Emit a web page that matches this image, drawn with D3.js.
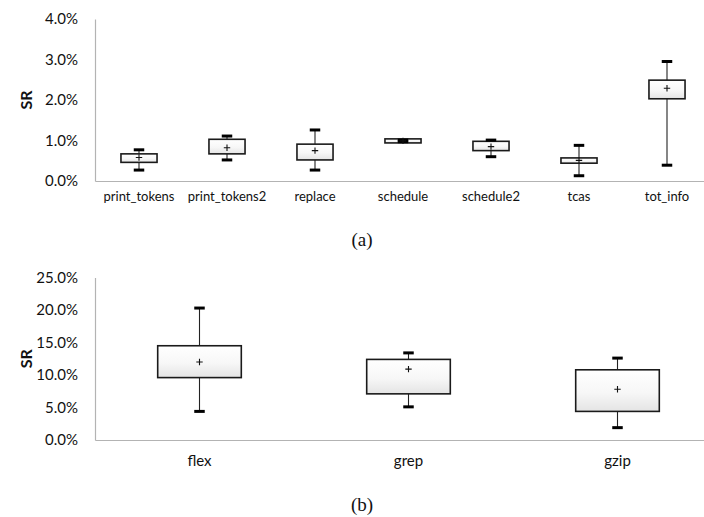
<!DOCTYPE html>
<html>
<head>
<meta charset="utf-8">
<script src="https://cdn.jsdelivr.net/npm/d3@7"></script>
<style>
  html, body { margin: 0; padding: 0; background: #fff; }
  svg { display: block; }
</style>
</head>
<body>
<svg id="chart" width="704" height="517"></svg>
<script>
// Panel (a): SR per Siemens program (percent)
const smallPrograms = ["print_tokens", "print_tokens2", "replace", "schedule", "schedule2", "tcas", "tot_info"];
const smallWhiskerLow  = [0.27, 0.52, 0.27, 0.97, 0.60, 0.13, 0.39];
const smallQ1          = [0.46, 0.67, 0.52, 0.94, 0.75, 0.44, 2.03];
const smallQ3          = [0.67, 1.03, 0.91, 1.04, 0.98, 0.57, 2.49];
const smallWhiskerHigh = [0.77, 1.11, 1.26, 1.01, 1.01, 0.88, 2.95];
const smallMean        = [0.58, 0.82, 0.75, 0.99, 0.85, 0.51, 2.29];
const smallTicks = [0, 1, 2, 3, 4];

// Panel (b): SR per larger program (percent)
const largePrograms = ["flex", "grep", "gzip"];
const largeWhiskerLow  = [4.4, 5.1, 1.9];
const largeQ1          = [9.6, 7.1, 4.4];
const largeQ3          = [14.5, 12.4, 10.8];
const largeWhiskerHigh = [20.3, 13.4, 12.6];
const largeMean        = [12.0, 10.9, 7.8];
const largeTicks = [0, 5, 10, 15, 20, 25];

const svg = d3.select("#chart");

const defs = svg.append("defs");
const grad = defs.append("linearGradient")
  .attr("id", "boxFill").attr("x1", 0).attr("y1", 0).attr("x2", 0).attr("y2", 1);
grad.append("stop").attr("offset", "0%").attr("stop-color", "#ffffff");
grad.append("stop").attr("offset", "55%").attr("stop-color", "#f7f7f7");
grad.append("stop").attr("offset", "100%").attr("stop-color", "#e4e4e4");

const labelFont = "Lato, 'Open Sans', sans-serif";

function drawPanel(opt) {
  const g = svg.append("g");
  const x = d3.scaleBand().domain(opt.cats).range([opt.x0, opt.x1]).paddingInner(0).paddingOuter(0);
  const y = d3.scaleLinear().domain([0, opt.max]).range([opt.yBottom, opt.yTop]);

  // y axis
  const yAxis = d3.axisLeft(y).tickValues(opt.ticks).tickSize(0).tickPadding(17)
    .tickFormat(d => d.toFixed(1) + "%");
  const ya = g.append("g").attr("transform", `translate(${opt.x0},0)`).call(yAxis);
  ya.select(".domain").attr("stroke", "#b3b3b3").attr("stroke-width", 1.2);
  ya.selectAll("text").attr("font-family", labelFont).attr("font-size", opt.tickSize)
    .attr("fill", "#111");

  // x axis
  const xAxis = d3.axisBottom(x).tickSize(0).tickPadding(opt.xPad);
  const xa = g.append("g").attr("transform", `translate(0,${opt.yBottom})`).call(xAxis);
  xa.select(".domain").attr("stroke", "#b3b3b3").attr("stroke-width", 1.2);
  xa.selectAll("text").attr("font-family", labelFont).attr("font-size", opt.catSize)
    .attr("fill", "#111");

  // axis title
  g.append("text")
    .attr("transform", `translate(${opt.titleX},${(opt.yTop + opt.yBottom) / 2}) rotate(-90)`)
    .attr("text-anchor", "middle").attr("dominant-baseline", "central")
    .attr("font-family", labelFont).attr("font-weight", "bold").attr("font-size", 16)
    .attr("fill", "#111").text("SR");

  const data = opt.cats.map((c, i) => ({
    cat: c, lo: opt.lo[i], q1: opt.q1[i], q3: opt.q3[i], hi: opt.hi[i], mean: opt.mean[i]
  }));
  const bw = x.bandwidth() * opt.boxFrac;
  const capW = 10.5;

  const box = g.selectAll(".box").data(data).join("g").attr("class", "box")
    .attr("transform", d => `translate(${x(d.cat) + x.bandwidth() / 2},0)`);

  // whisker stems
  box.append("line").attr("x1", 0).attr("x2", 0)
    .attr("y1", d => y(d.hi)).attr("y2", d => y(d.q3))
    .attr("stroke", "#222").attr("stroke-width", 1.1);
  box.append("line").attr("x1", 0).attr("x2", 0)
    .attr("y1", d => y(d.q1)).attr("y2", d => y(d.lo))
    .attr("stroke", "#222").attr("stroke-width", 1.1);

  // box
  box.append("rect")
    .attr("x", -bw / 2).attr("width", bw)
    .attr("y", d => y(d.q3)).attr("height", d => y(d.q1) - y(d.q3))
    .attr("fill", "url(#boxFill)").attr("stroke", "#1a1a1a").attr("stroke-width", 1.6);

  // whisker caps
  box.append("line").attr("x1", -capW / 2).attr("x2", capW / 2)
    .attr("y1", d => y(d.hi)).attr("y2", d => y(d.hi))
    .attr("stroke", "#000").attr("stroke-width", 3);
  box.append("line").attr("x1", -capW / 2).attr("x2", capW / 2)
    .attr("y1", d => y(d.lo)).attr("y2", d => y(d.lo))
    .attr("stroke", "#000").attr("stroke-width", 3);

  // mean marker
  const m = 3.2;
  box.append("path")
    .attr("d", d => `M${-m},${y(d.mean)}H${m}M0,${y(d.mean) - m}V${y(d.mean) + m}`)
    .attr("stroke", "#111").attr("stroke-width", 1.1).attr("fill", "none");

  // caption
  g.append("text").attr("x", opt.capX).attr("y", opt.capY)
    .attr("text-anchor", "middle")
    .attr("font-family", "'Liberation Serif', 'Times New Roman', serif")
    .attr("font-size", 19).attr("fill", "#111").text(opt.caption);
}

drawPanel({
  cats: smallPrograms, lo: smallWhiskerLow, q1: smallQ1, q3: smallQ3, hi: smallWhiskerHigh, mean: smallMean,
  ticks: smallTicks, max: 4, x0: 95, x1: 711, yTop: 19, yBottom: 181,
  boxFrac: 0.41, tickSize: 15, catSize: 13, xPad: 11, titleX: 25,
  capX: 362, capY: 246, caption: "(a)"
});

drawPanel({
  cats: largePrograms, lo: largeWhiskerLow, q1: largeQ1, q3: largeQ3, hi: largeWhiskerHigh, mean: largeMean,
  ticks: largeTicks, max: 25, x0: 95, x1: 722, yTop: 277.5, yBottom: 440,
  boxFrac: 0.40, tickSize: 15, catSize: 15, xPad: 15, titleX: 25,
  capX: 362, capY: 511, caption: "(b)"
});
</script>
</body>
</html>
